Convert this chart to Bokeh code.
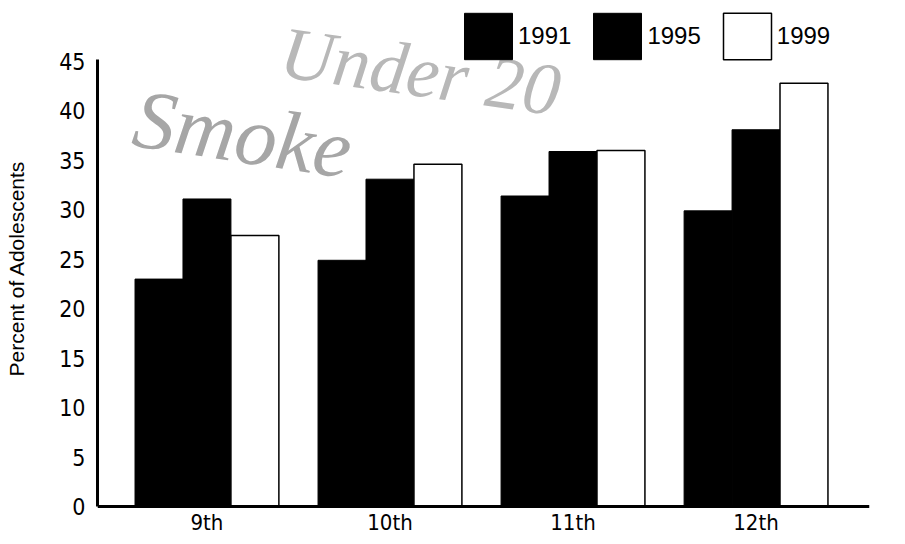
from bokeh.plotting import figure
from bokeh.models import (ColumnDataSource, Range1d, FixedTicker, Legend, LegendItem, Label)
from bokeh.transform import dodge
from bokeh.embed import file_html
from bokeh.resources import INLINE

grades = ["9th", "10th", "11th", "12th"]
years = ["1991", "1995", "1999"]
v1991 = [23.0, 24.9, 31.4, 29.9]
v1995 = [31.1, 33.1, 35.9, 38.1]
v1999 = [27.4, 34.6, 36.0, 42.8]
y_ticks = [0, 5, 10, 15, 20, 25, 30, 35, 40, 45]

pos = list(range(len(grades)))
src = ColumnDataSource(dict(x=pos, grade=grades, y1991=v1991, y1995=v1995, y1999=v1999))

TICKFONT = "DejaVu Sans Condensed"

p = figure(width=889, height=536, output_backend="svg", toolbar_location=None,
           x_range=Range1d(-0.598, 3.62), y_range=Range1d(-3.03, 51.17),
           min_border_left=97, min_border_right=20, min_border_top=0, min_border_bottom=0)
p.outline_line_color = None
p.xgrid.visible = False
p.ygrid.visible = False
p.background_fill_color = "white"

# background decoration texts (scanned poster remnants)
p.add_layout(Label(x=-0.434, y=34.7, text="Smoke", angle=-0.15,
                   text_font="Liberation Serif", text_font_style="italic",
                   text_font_size="84px", text_color="#a6a6a6", level="underlay"))
p.add_layout(Label(x=0.374, y=41.9, text="Under 20", angle=-0.14,
                   text_font="Liberation Serif", text_font_style="italic",
                   text_font_size="74px", text_color="#b8b8b8", level="underlay"))

w = 0.262
r1 = p.vbar(x=dodge("x", -w, range=p.x_range), top="y1991", width=w, source=src,
            fill_color="black", line_color="black", line_width=1)
r2 = p.vbar(x=dodge("x", 0, range=p.x_range), top="y1995", width=w, source=src,
            fill_color="black", line_color="black", line_width=1)
r3 = p.vbar(x=dodge("x", w, range=p.x_range), top="y1999", width=w, source=src,
            fill_color="white", line_color="black", line_width=1.5)

# axes
p.yaxis.ticker = FixedTicker(ticks=y_ticks)
p.yaxis.bounds = (0, 45.2)
p.yaxis.axis_line_width = 3
p.yaxis.major_tick_line_color = None
p.yaxis.minor_tick_line_color = None
p.yaxis.major_tick_out = 0
p.yaxis.major_label_standoff = 12
p.yaxis.major_label_text_font = TICKFONT
p.yaxis.major_label_text_font_size = "23px"
p.yaxis.major_label_text_color = "black"
p.yaxis.axis_label = "Percent of Adolescents"
p.yaxis.axis_label_text_font = "Liberation Sans"
p.yaxis.axis_label_text_font_style = "normal"
p.yaxis.axis_label_text_font_size = "21px"
p.yaxis.axis_label_standoff = 28
p.yaxis.axis_label_text_color = "black"

p.xaxis.fixed_location = 0
p.xaxis.ticker = FixedTicker(ticks=pos)
p.xaxis.major_label_overrides = {i: g for i, g in zip(pos, grades)}
p.xaxis.axis_line_width = 3
p.xaxis.major_tick_line_color = None
p.xaxis.minor_tick_line_color = None
p.xaxis.major_tick_out = 0
p.xaxis.major_label_standoff = 3
p.xaxis.major_label_text_font = TICKFONT
p.xaxis.major_label_text_font_size = "22px"
p.xaxis.major_label_text_color = "black"

legend = Legend(items=[LegendItem(label=years[0], renderers=[r1]),
                       LegendItem(label=years[1], renderers=[r2]),
                       LegendItem(label=years[2], renderers=[r3])],
                orientation="horizontal", location=(361, 471),
                glyph_width=60, glyph_height=58, label_standoff=0, spacing=16,
                padding=0, margin=0, border_line_color=None, background_fill_alpha=0,
                label_text_font="Liberation Sans", label_text_font_size="24px",
                label_text_color="black")
p.add_layout(legend, "center")

open("out.html", "w").write(file_html(p, INLINE))
